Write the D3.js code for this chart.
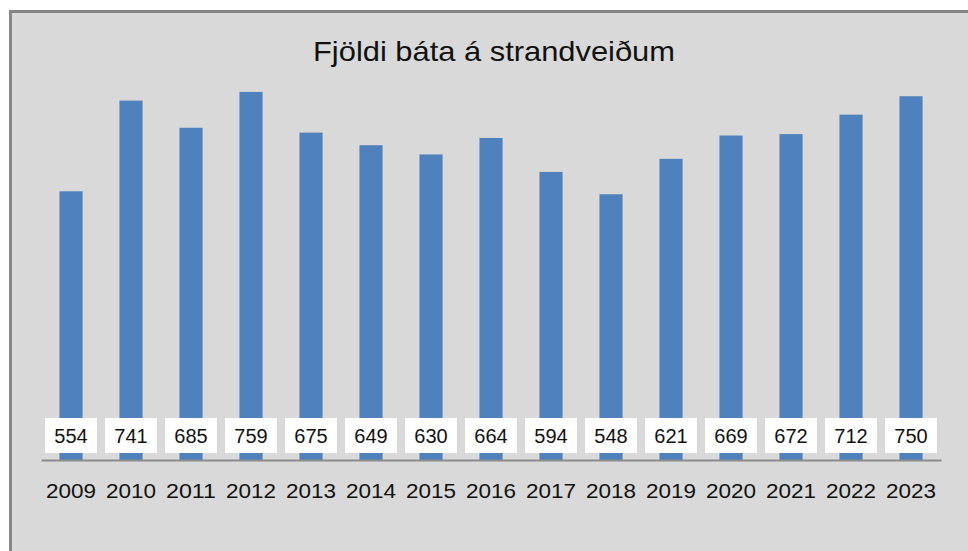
<!DOCTYPE html>
<html><head><meta charset="utf-8">
<script src="https://cdn.jsdelivr.net/npm/d3@7"></script>
<style>html,body{margin:0;padding:0;background:#fff;}svg{display:block;}</style>
</head><body>
<script>
const title = "Fjöldi báta á strandveiðum";
const years = ["2009","2010","2011","2012","2013","2014","2015","2016","2017","2018","2019","2020","2021","2022","2023"];
const boats = [554,741,685,759,675,649,630,664,594,548,621,669,672,712,750];

const W = 968, H = 551;
const svg = d3.select("body").append("svg").attr("width", W).attr("height", H);

// chart area background + border
svg.append("rect").attr("x", 10.5).attr("y", 11.5).attr("width", W + 20).attr("height", H + 20)
  .attr("fill", "#d9d9d9").attr("stroke", "#878787").attr("stroke-width", 3);

const x = d3.scaleBand().domain(years).range([41, 941]).paddingInner(0.615).paddingOuter(0.3075);
const y = d3.scaleLinear().domain([0, 800]).range([460, 72]);

svg.append("text").attr("x", 494).attr("y", 61).attr("text-anchor", "middle")
  .attr("font-family", "Liberation Sans, Arial, sans-serif").attr("font-size", 28).attr("fill", "#111")
  .attr("textLength", 362).attr("lengthAdjust", "spacingAndGlyphs")
  .text(title);

svg.selectAll("rect.bar").data(boats).join("rect").attr("class", "bar")
  .attr("x", (d, i) => x(years[i])).attr("width", x.bandwidth())
  .attr("y", d => y(d)).attr("height", d => y(0) - y(d))
  .attr("fill", "#4f81bd");

// axis
const axis = svg.append("g").attr("transform", `translate(0,${y(0)})`)
  .call(d3.axisBottom(x).tickSize(0).tickPadding(0));
axis.select(".domain").attr("stroke", "#8c8c8c").attr("stroke-width", 2);
axis.selectAll("text").attr("dy", null).attr("y", 38)
  .attr("font-family", "Liberation Sans, Arial, sans-serif").attr("font-size", 20)
  .attr("textLength", 50).attr("lengthAdjust", "spacingAndGlyphs").attr("fill", "#111");

// value labels
const lab = svg.selectAll("g.lab").data(boats).join("g").attr("class", "lab")
  .attr("transform", (d, i) => `translate(${x(years[i]) + x.bandwidth() / 2},0)`);
lab.append("rect").attr("x", -26).attr("y", 418).attr("width", 52).attr("height", 35).attr("fill", "#fff");
lab.append("text").attr("y", 443).attr("text-anchor", "middle")
  .attr("font-family", "Liberation Sans, Arial, sans-serif").attr("font-size", 20).attr("fill", "#111")
  .text(d => d);
</script>
</body></html>
